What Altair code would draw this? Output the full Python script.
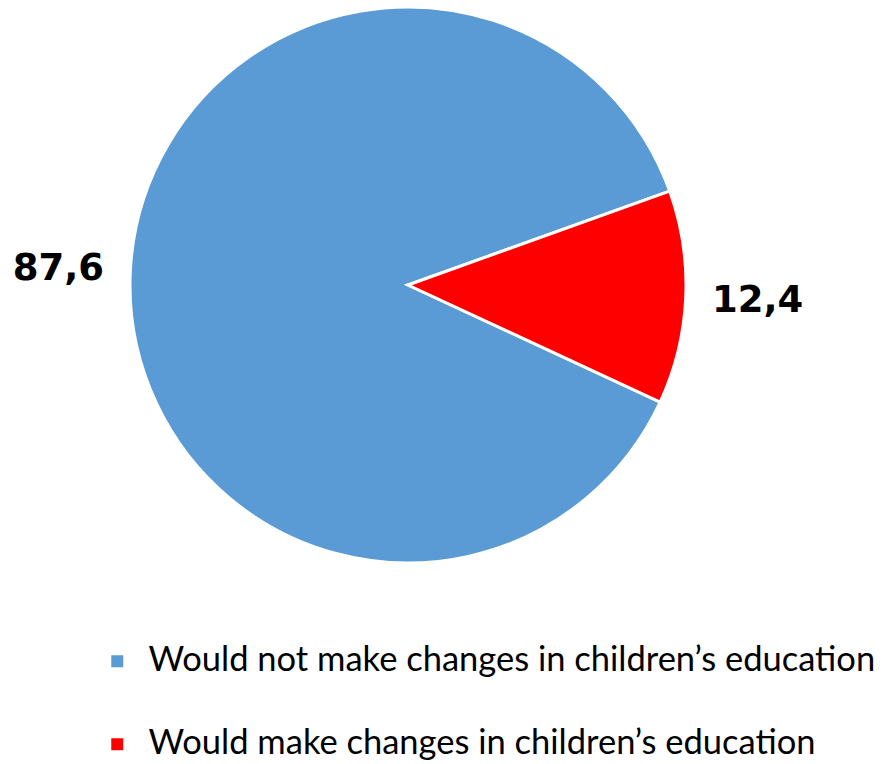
import altair as alt
import pandas as pd
import math

categories = ["Would not make changes in children\u2019s education",
              "Would make changes in children\u2019s education"]
values = [87.6, 12.4]
labels = ["87,6", "12,4"]
colors = ["#5B9BD5", "#FF0000"]

df = pd.DataFrame({"cat": categories, "val": values, "lab": labels, "ord": [0, 1]})

start = math.radians(114.9)
theta_scale = alt.Scale(range=[start, start + 2 * math.pi])

base = alt.Chart(df).encode(
    theta=alt.Theta("val:Q", stack=True, scale=theta_scale),
    order=alt.Order("ord:Q"),
    x=alt.value(408),
    y=alt.value(285),
)

arc = base.mark_arc(radius=278, stroke="white", strokeWidth=3).encode(
    color=alt.Color(
        "cat:N",
        sort=categories,
        scale=alt.Scale(domain=categories, range=colors),
        legend=alt.Legend(
            title=None,
            orient="none",
            legendX=100,
            legendY=644,
            symbolType="square",
            symbolSize=144,
            symbolStrokeWidth=0,
            labelFont="Lato",
            labelFontSize=34.5,
            labelColor="black",
            labelOffset=14,
            rowPadding=48,
            labelLimit=1000,
        ),
    )
)

text = base.mark_text(
    radius=350, font="DejaVu Sans", fontWeight="bold", fontSize=37, color="black"
).encode(text="lab:N")

chart = (
    alt.layer(arc, text)
    .properties(width=882, height=764, autosize=alt.AutoSizeParams(type="none"), padding=0)
    .configure_view(stroke=None)
)

chart.save("out.html", embed_options={"renderer": "svg", "actions": False})
